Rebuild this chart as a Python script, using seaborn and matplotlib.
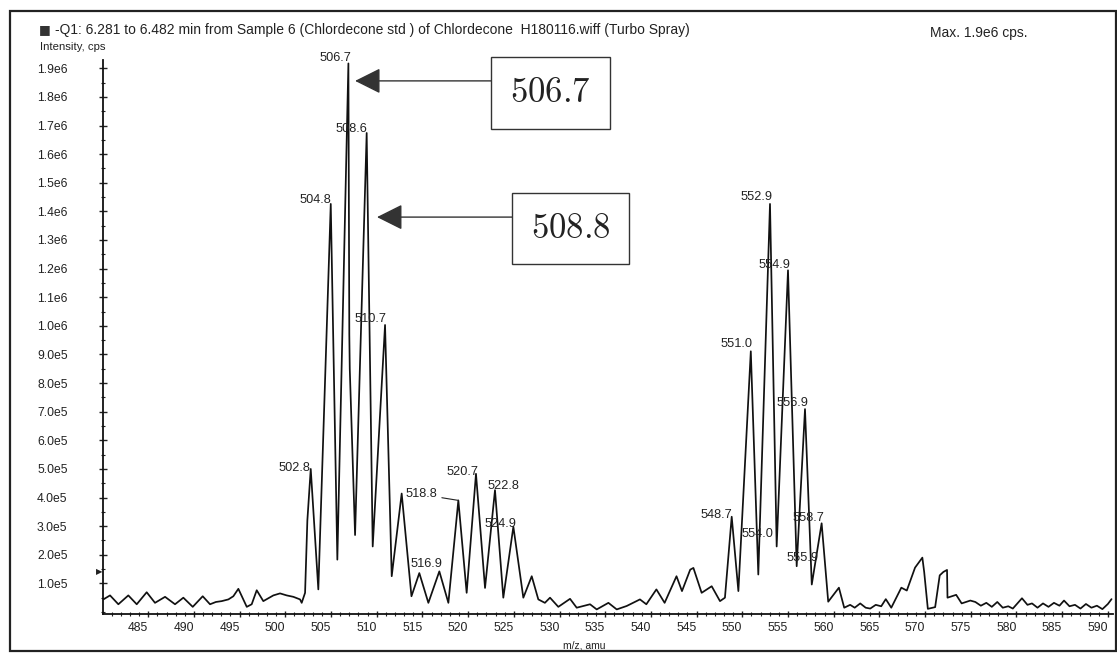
import numpy as np
import matplotlib
matplotlib.use("Agg")
import matplotlib.pyplot as plt
import seaborn as sns
from matplotlib.patches import Rectangle
from matplotlib.ticker import MultipleLocator

# ---------------- data ----------------
mz = [480.09, 480.82, 481.73, 482.82, 483.74, 484.83, 485.74, 486.84, 487.93, 488.84,
      489.87, 490.96, 491.76, 492.40, 493.04, 493.77, 494.31, 494.86, 495.78, 496.32,
      496.87, 497.59, 498.69, 499.42, 500.15, 500.88, 501.61, 501.79, 502.16, 502.41,
      502.78, 503.14, 503.61, 504.97, 505.69, 506.90, 507.00, 507.05, 507.63, 508.90,
      509.56, 510.91, 511.64, 512.73, 513.80, 514.66, 515.65, 516.85, 517.84, 518.93,
      519.84, 520.86, 521.85, 522.94, 523.85, 524.95, 526.04, 526.96, 527.68, 528.40,
      528.96, 529.87, 531.15, 531.88, 533.34, 534.07, 535.35, 536.26, 537.35, 538.80,
      539.50, 540.60, 541.50, 542.80, 543.40, 544.30, 544.65, 545.55, 546.65, 547.56,
      548.10, 548.84, 549.57, 550.93, 551.75, 553.03, 553.76, 555.00, 555.95, 556.86,
      557.60, 558.68, 559.40, 560.57, 561.15, 561.80, 562.30, 562.90, 563.50, 564.00,
      564.60, 565.20, 565.70, 566.30, 567.40, 568.00, 568.90, 569.70, 569.90, 570.30,
      571.10, 571.60, 572.00, 572.40, 572.45, 573.40, 574.00, 574.95, 575.50, 576.10,
      576.70, 577.30, 577.90, 578.50, 579.10, 579.60, 580.60, 581.20, 581.70, 582.30,
      582.90, 583.50, 584.10, 584.70, 585.20, 585.80, 586.40, 587.00, 587.60, 588.20,
      588.80, 589.40, 590.00, 590.40]
intensity_e5 = [0.44, 0.58, 0.27, 0.58, 0.27, 0.69, 0.32, 0.53, 0.27, 0.50,
                0.18, 0.55, 0.27, 0.35, 0.38, 0.44, 0.55, 0.81, 0.18, 0.27,
                0.76, 0.38, 0.58, 0.65, 0.58, 0.53, 0.44, 0.32, 0.67, 3.20,
                5.00, 3.20, 0.79, 14.26, 1.83, 19.17, 9.70, 8.50, 2.69, 16.74,
                2.29, 10.03, 1.25, 4.14, 0.55, 1.36, 0.32, 1.42, 0.32, 3.90,
                0.67, 4.83, 0.84, 4.26, 0.50, 2.98, 0.50, 1.25, 0.44, 0.32,
                0.50, 0.18, 0.46, 0.15, 0.27, 0.09, 0.32, 0.09, 0.21, 0.44,
                0.27, 0.79, 0.32, 1.25, 0.73, 1.48, 1.54, 0.67, 0.90, 0.38,
                0.50, 3.33, 0.73, 9.11, 1.31, 14.26, 2.29, 11.94, 1.60, 7.09,
                0.96, 3.10, 0.36, 0.85, 0.15, 0.25, 0.15, 0.30, 0.15, 0.12,
                0.25, 0.20, 0.45, 0.15, 0.85, 0.75, 1.55, 1.90, 1.40, 0.11,
                0.17, 1.28, 1.40, 1.47, 0.50, 0.60, 0.30, 0.40, 0.35, 0.22,
                0.32, 0.18, 0.35, 0.15, 0.20, 0.12, 0.48, 0.25, 0.30, 0.15,
                0.30, 0.18, 0.32, 0.22, 0.40, 0.20, 0.25, 0.12, 0.28, 0.15,
                0.22, 0.10, 0.28, 0.45]
intensity = np.array(intensity_e5) * 1e5

xtick_values = [485, 490, 495, 500, 505, 510, 515, 520, 525, 530, 535, 540, 545, 550,
                555, 560, 565, 570, 575, 580, 585, 590]
ytick_values = [1e5, 2e5, 3e5, 4e5, 5e5, 6e5, 7e5, 8e5, 9e5, 1.0e6, 1.1e6, 1.2e6,
                1.3e6, 1.4e6, 1.5e6, 1.6e6, 1.7e6, 1.8e6, 1.9e6]
ytick_labels = ["1.0e5", "2.0e5", "3.0e5", "4.0e5", "5.0e5", "6.0e5", "7.0e5", "8.0e5",
                "9.0e5", "1.0e6", "1.1e6", "1.2e6", "1.3e6", "1.4e6", "1.5e6", "1.6e6",
                "1.7e6", "1.8e6", "1.9e6"]

# labelled features: text and the m/z of the trace point it belongs to
label_text = ["502.8", "504.8", "506.7", "508.6", "510.7", "516.9", "518.8", "520.7",
              "522.8", "524.9", "548.7", "551.0", "552.9", "554.0", "554.9", "555.9",
              "556.9", "558.7"]
label_anchor_mz = [502.78, 504.97, 506.90, 508.90, 510.91, 516.85, 518.93, 520.86,
                   522.94, 524.95, 548.84, 550.93, 553.03, 553.76, 555.00, 555.95,
                   556.86, 558.68]
# label centre offsets (pixels) from the anchor point
label_offsets = [(-16, 1), (-15, 4), (-13, 5), (-15, 4), (-15, 6), (-13, 7), (-37, 6),
                 (-13, 2), (8, 4), (-13, 3), (-15, 2), (-14, 7), (-13, 7), (-19, 12),
                 (-14, 5), (6, 8), (-13, 6), (-13, 5)]

callout_text = ["506.7", "508.8"]
callout_tip_mz = [507.63, 510.03]
callout_tip_int = [18.56e5, 13.80e5]
callout_start_mz = [522.6, 524.9]
callout_box_mz = [529.0, 531.2]
callout_box_int = [18.14e5, 13.39e5]

# ---------------- figure ----------------
sns.set_style("ticks")
plt.rcParams["font.family"] = ["Liberation Sans", "DejaVu Sans"]
plt.rcParams["mathtext.fontset"] = "cm"

W, H = 1117, 654
fig = plt.figure(figsize=(W / 100, H / 100), dpi=100)
fig.patch.set_facecolor("white")
ax = fig.add_axes([103 / W, (H - 614) / H, 1010 / W, 554 / H])

sns.lineplot(x=mz, y=intensity, ax=ax, color="#111111", linewidth=1.25,
             estimator=None, sort=False)

ax.set_xlim(480.05, 590.56)
ax.set_ylim(-0.07e5, 19.29e5)
sns.despine(ax=ax)
for s in ("left", "bottom"):
    ax.spines[s].set_linewidth(1.3)
    ax.spines[s].set_color("#111111")

ax.set_xticks(xtick_values)
ax.set_xticklabels([str(v) for v in xtick_values])
ax.xaxis.set_minor_locator(MultipleLocator(1))
ax.set_yticks(ytick_values)
ax.set_yticklabels(ytick_labels)
ax.yaxis.set_minor_locator(MultipleLocator(0.5e5))
ax.tick_params(axis="x", which="major", direction="inout", length=5, width=1,
               pad=3.2, labelsize=8.7, colors="#222222")
ax.tick_params(axis="x", which="minor", direction="inout", length=2.5, width=0.8,
               colors="#222222")
ax.tick_params(axis="y", which="major", direction="inout", length=6, width=1,
               pad=44.5, labelsize=8.7, colors="#222222")
ax.tick_params(axis="y", which="minor", direction="inout", length=3, width=0.8,
               colors="#222222")
for lab in ax.get_xticklabels():
    lab.set_horizontalalignment("right")
for lab in ax.get_yticklabels():
    lab.set_horizontalalignment("left")
ax.set_xlabel("")
ax.set_ylabel("")

# peak labels
mz_arr = np.array(mz)
for txt, anc, (dx, dy) in zip(label_text, label_anchor_mz, label_offsets):
    i = int(np.argmin(np.abs(mz_arr - anc)))
    kw = dict(textcoords="offset pixels", ha="center", va="center",
              fontsize=9.2, color="#222222")
    if txt == "518.8":
        kw["arrowprops"] = dict(arrowstyle="-", lw=0.8, color="#222222",
                                shrinkA=1, shrinkB=0)
    ax.annotate(txt, xy=(mz_arr[i], intensity[i]), xytext=(dx, dy), **kw)

# call-out boxes with arrows
for txt, tx, ty, sx, bx, by in zip(callout_text, callout_tip_mz, callout_tip_int,
                                   callout_start_mz, callout_box_mz, callout_box_int):
    ax.annotate("", xy=(tx, ty), xytext=(sx, ty),
                arrowprops=dict(arrowstyle="-|>,head_length=1.6,head_width=0.8",
                                mutation_scale=10, lw=1.0, color="#333333",
                                shrinkA=0, shrinkB=0))
    ax.text(bx, by, "$" + txt + "$", fontsize=25, ha="center", va="center",
            color="#222222",
            bbox=dict(boxstyle="square,pad=0.55", fc="white", ec="#333333", lw=1.0))

# small marker on the left axis
ax.annotate("\u25B6", xy=(0, 1.4e5), xycoords=("axes fraction", "data"),
            xytext=(-4, 0), textcoords="offset pixels", ha="center", va="center",
            fontsize=6, color="#222222", family="DejaVu Sans")

# header texts
fig.text(45 / W, 1 - 30 / H, "\u25A0", fontsize=9, ha="center", va="center",
         color="#333333", family="DejaVu Sans")
fig.text(55 / W, 1 - 30 / H,
         "-Q1: 6.281 to 6.482 min from Sample 6 (Chlordecone std ) of Chlordecone  "
         "H180116.wiff (Turbo Spray)", fontsize=10, ha="left", va="center",
         color="#222222")
fig.text(930 / W, 1 - 33 / H, "Max. 1.9e6 cps.", fontsize=10, ha="left", va="center",
         color="#222222")
fig.text(40 / W, 1 - 47 / H, "Intensity, cps", fontsize=8.2, ha="left", va="center",
         color="#222222")
fig.text(584 / W, 1 - 645 / H, "m/z, amu", fontsize=7.5, ha="center", va="center",
         color="#222222")

# outer frame
fig.patches.append(Rectangle((10 / W, 3 / H), 1106 / W, 640 / H, transform=fig.transFigure,
                             fill=False, ec="#222222", lw=1.6))

fig.savefig("out.png", dpi=100)
